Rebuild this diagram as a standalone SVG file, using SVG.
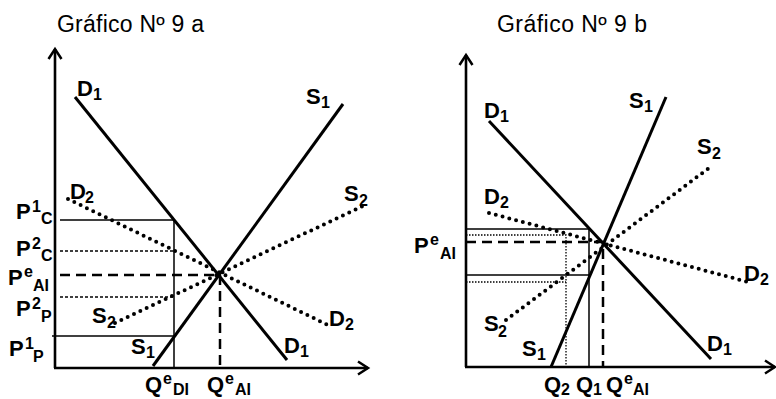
<svg xmlns="http://www.w3.org/2000/svg" width="776" height="399" viewBox="0 0 776 399">
<defs>
<marker id="arr" markerWidth="16" markerHeight="16" refX="13" refY="8" orient="auto" markerUnits="userSpaceOnUse">
<path d="M3,1.5 L13,8 L3,14.5" fill="none" stroke="#000" stroke-width="2.5"/>
</marker>
</defs>
<style>
text{font-family:"Liberation Sans",Arial,sans-serif;fill:#000}
.t{font-size:23px}
.m{font-size:22px;font-weight:bold}
.s{font-size:16px;font-weight:bold}
.ax{stroke:#000;stroke-width:2.6;fill:none}
.cv{stroke:#000;stroke-width:3;fill:none}
.dot{stroke:#000;stroke-width:4;fill:none;stroke-dasharray:0 7;stroke-linecap:round}
.th{stroke:#000;stroke-width:1.5;fill:none}
.dsh{stroke:#000;stroke-width:2.5;fill:none;stroke-dasharray:10 6}
.fd{stroke:#000;stroke-width:1.6;fill:none;stroke-dasharray:3 2}
.fdot{stroke:#000;stroke-width:1.3;fill:none;stroke-dasharray:1.5 1.5}
</style>
<rect width="776" height="399" fill="#fff"/>

<g id="chart-a">
<text class="t" x="57" y="32" textLength="147">Gráfico Nº 9 a</text>
<g id="axes-a">
<path class="ax" d="M55,368 V49" marker-end="url(#arr)"/>
<path class="ax" d="M54,368 H368" marker-end="url(#arr)"/>
</g>
<g id="connectors-a">
<path class="th" d="M60,220 H174 V368"/>
<path class="th" d="M52,336 H174"/>
<path class="fd" d="M60,251 H174"/>
<path class="fd" d="M60,297 H174"/>
<path class="dsh" d="M60,275 H220 V368"/>
<path class="cv" d="M75,97 L287,360"/>
<path class="cv" d="M343,104 L153,366"/>
<path class="dot" d="M68,199 L330,326"/>
<path class="dot" d="M115,323 L365,205"/>
</g>
<g id="labels-a">
<g id="a-D1-top"><text class="m" x="77" y="96">D</text><text class="s" x="93" y="100">1</text></g>
<g id="a-S1-top"><text class="m" x="306" y="104">S</text><text class="s" x="321" y="108">1</text></g>
<g id="a-D2-top"><text class="m" x="70" y="199">D</text><text class="s" x="85" y="203">2</text></g>
<g id="a-S2-top"><text class="m" x="344" y="201">S</text><text class="s" x="359" y="206">2</text></g>
<g id="a-S2-bot"><text class="m" x="92" y="323">S</text><text class="s" x="107" y="328">2</text></g>
<g id="a-D2-bot"><text class="m" x="329" y="326">D</text><text class="s" x="345" y="330">2</text></g>
<g id="a-D1-bot"><text class="m" x="284" y="353">D</text><text class="s" x="300" y="357">1</text></g>
<g id="a-S1-bot"><text class="m" x="131" y="354">S</text><text class="s" x="146" y="358">1</text></g>
<g id="a-P1C"><text class="m" x="16" y="219">P</text><text class="s" x="32" y="212">1</text><text class="s" x="41" y="224">C</text></g>
<g id="a-P2C"><text class="m" x="16" y="256">P</text><text class="s" x="32" y="249">2</text><text class="s" x="41" y="261">C</text></g>
<g id="a-PeAI"><text class="m" x="8" y="285">P</text><text class="s" x="24" y="277">e</text><text class="s" x="33" y="291">AI</text></g>
<g id="a-P2P"><text class="m" x="16" y="316">P</text><text class="s" x="32" y="309">2</text><text class="s" x="41" y="322">P</text></g>
<g id="a-P1P"><text class="m" x="9" y="356">P</text><text class="s" x="25" y="349">1</text><text class="s" x="33" y="362">P</text></g>
<g id="a-QeDI"><text class="m" x="145" y="392">Q</text><text class="s" x="163" y="384">e</text><text class="s" x="173" y="395">DI</text></g>
<g id="a-QeAI"><text class="m" x="207" y="392">Q</text><text class="s" x="225" y="384">e</text><text class="s" x="235" y="395">AI</text></g>
</g>
</g>

<g id="chart-b">
<text class="t" x="497" y="32" textLength="150">Gráfico Nº 9 b</text>
<g id="axes-b">
<path class="ax" d="M466,367 V55" marker-end="url(#arr)"/>
<path class="ax" d="M465,367 H775" marker-end="url(#arr)"/>
</g>
<g id="connectors-b">
<path class="th" d="M466,229 H589 V367"/>
<path class="th" d="M466,275 H589"/>
<path class="fdot" d="M466,235 H566 V367"/>
<path class="fdot" d="M466,282 H566"/>
<path class="dsh" d="M466,242 H603 V367"/>
<path class="cv" d="M489,121 L711,359"/>
<path class="cv" d="M666,97 L551,367"/>
<path class="dot" d="M506,320 L713,165"/>
<path class="dot" d="M489,213 L748,282"/>
</g>
<g id="labels-b">
<g id="b-D1-top"><text class="m" x="484" y="118">D</text><text class="s" x="500" y="122">1</text></g>
<g id="b-S1-top"><text class="m" x="629" y="108">S</text><text class="s" x="644" y="112">1</text></g>
<g id="b-S2-top"><text class="m" x="697" y="154">S</text><text class="s" x="712" y="159">2</text></g>
<g id="b-D2-top"><text class="m" x="484" y="204">D</text><text class="s" x="500" y="208">2</text></g>
<g id="b-D2-right"><text class="m" x="744" y="281">D</text><text class="s" x="760" y="285">2</text></g>
<g id="b-S2-bot"><text class="m" x="484" y="331">S</text><text class="s" x="498" y="337">2</text></g>
<g id="b-S1-bot"><text class="m" x="522" y="356">S</text><text class="s" x="537" y="360">1</text></g>
<g id="b-D1-bot"><text class="m" x="707" y="351">D</text><text class="s" x="723" y="355">1</text></g>
<g id="b-PeAI"><text class="m" x="414" y="253">P</text><text class="s" x="430" y="245">e</text><text class="s" x="440" y="259">AI</text></g>
<g id="b-Q2"><text class="m" x="544" y="392">Q</text><text class="s" x="561" y="395">2</text></g>
<g id="b-Q1"><text class="m" x="576" y="392">Q</text><text class="s" x="593" y="395">1</text></g>
<g id="b-QeAI"><text class="m" x="606" y="392">Q</text><text class="s" x="624" y="384">e</text><text class="s" x="633" y="395">AI</text></g>
</g>
</g>
</svg>
